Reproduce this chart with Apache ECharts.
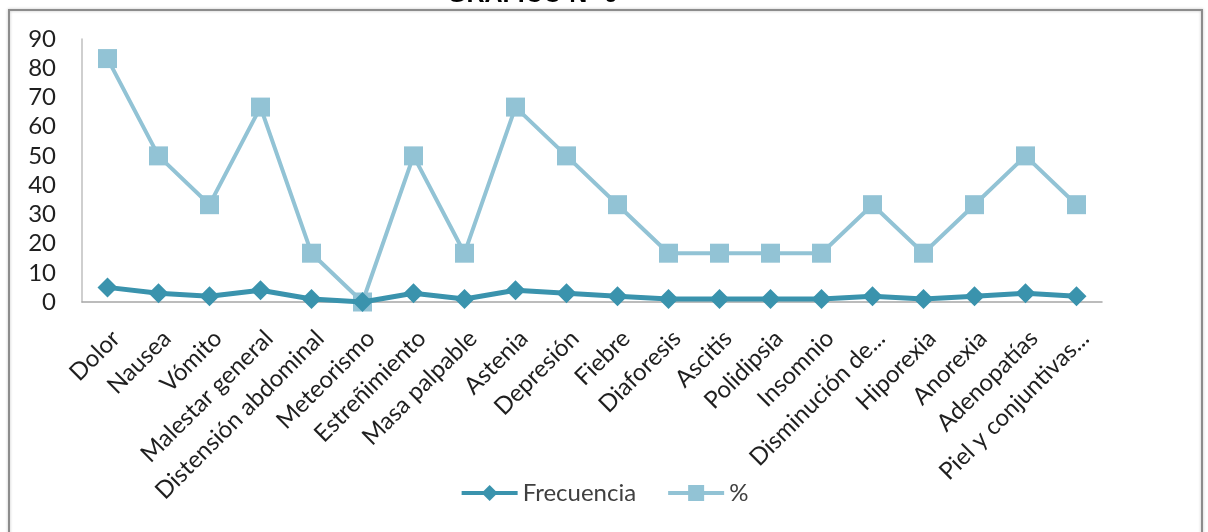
<!DOCTYPE html>
<html>
<head>
<meta charset="utf-8">
<script src="https://cdn.jsdelivr.net/npm/echarts@6/dist/echarts.min.js"></script>
<style>
  html, body { margin: 0; padding: 0; background: #fff; }
  #chart { width: 1208px; height: 532px; }
</style>
</head>
<body>
<div id="chart"></div>
<script>
// datos del gráfico
const categorias = ['Dolor', 'Nausea', 'Vómito', 'Malestar general', 'Distensión abdominal', 'Meteorismo',
  'Estreñimiento', 'Masa palpable', 'Astenia', 'Depresión', 'Fiebre', 'Diaforesis', 'Ascitis',
  'Polidipsia', 'Insomnio', 'Disminución de...', 'Hiporexia', 'Anorexia', 'Adenopatías', 'Piel y conjuntivas...'];
const frecuencia = [5, 3, 2, 4, 1, 0, 3, 1, 4, 3, 2, 1, 1, 1, 1, 2, 1, 2, 3, 2];
const porcentaje = [83.3, 50, 33.3, 66.7, 16.7, 0, 50, 16.7, 66.7, 50, 33.3, 16.7, 16.7, 16.7, 16.7, 33.3, 16.7, 33.3, 50, 33.3];
const yTicks = [0, 10, 20, 30, 40, 50, 60, 70, 80, 90];

const chart = echarts.init(document.getElementById('chart'));

const option = {
  animation: false,
  textStyle: { fontFamily: 'Lato' },
  graphic: [
    { // marco del gráfico
      type: 'rect',
      shape: { x: 9, y: 10, width: 1193, height: 530 },
      style: { fill: 'none', stroke: '#8c8c8c', lineWidth: 2, shadowColor: 'rgba(0,0,0,0.25)', shadowBlur: 3 },
      z: 0
    },
    { // título (cortado arriba)
      type: 'text',
      left: 447,
      top: -17,
      style: { text: 'GRÁFICO N° 9', font: 'bold 25px "Liberation Sans", Arial', fill: '#000' }
    }
  ],
  legend: {
    bottom: 22,
    left: 'center',
    itemWidth: 56,
    itemHeight: 20,
    itemGap: 30,
    lineStyle: { width: 4 },
    textStyle: { color: '#404040', fontSize: 24, fontFamily: 'Lato' },
    data: ['Frecuencia', '%']
  },
  grid: { left: 82, right: 106, top: 39, bottom: 230 },
  xAxis: {
    type: 'category',
    data: categorias,
    axisLine: { lineStyle: { color: '#a6a6a6', width: 1.5 } },
    axisTick: { show: false },
    axisLabel: {
      rotate: 45,
      interval: 0,
      margin: 24,
      verticalAlign: 'top',
      color: '#1f1f1f',
      fontSize: 24,
      fontFamily: 'Lato'
    }
  },
  yAxis: {
    type: 'value',
    min: 0,
    max: 90,
    interval: 10,
    splitLine: { show: false },
    axisLine: { show: true, lineStyle: { color: '#bfbfbf', width: 1.5 } },
    axisTick: { show: false },
    axisLabel: {
      color: '#1f1f1f',
      fontSize: 24,
      margin: 26,
      fontFamily: 'Lato',
      formatter: v => (yTicks.includes(v) ? String(v) : '')
    }
  },
  series: [
    {
      name: 'Frecuencia',
      type: 'line',
      data: frecuencia,
      symbol: 'diamond',
      symbolSize: 20,
      z: 3,
      itemStyle: { color: '#3a93ad' },
      lineStyle: { color: '#3a93ad', width: 5 }
    },
    {
      name: '%',
      type: 'line',
      data: porcentaje,
      symbol: 'rect',
      symbolSize: 19,
      z: 2,
      itemStyle: { color: '#92c3d5' },
      lineStyle: { color: '#92c3d5', width: 4 }
    }
  ]
};

chart.setOption(option);
</script>
</body>
</html>
